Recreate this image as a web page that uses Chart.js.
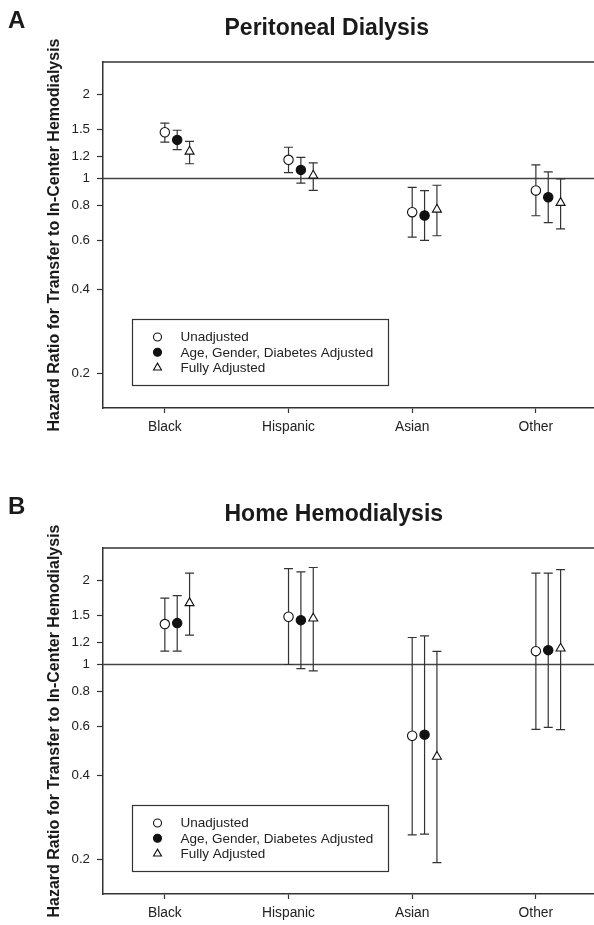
<!DOCTYPE html>
<html>
<head>
<meta charset="utf-8">
<script src="https://cdn.jsdelivr.net/npm/chart.js@4.4.1/dist/chart.umd.min.js"></script>
<style>
  html, body { margin: 0; padding: 0; background: #fff; overflow: hidden; }
  body { width: 594px; height: 925px; position: relative; }
  .panel { position: absolute; left: 0; width: 594px; height: 460px; }
  #panelA { top: 0; }
  #panelB { top: 486px; }
</style>
</head>
<body>
<div class="panel" id="panelA"><canvas id="chartA" width="594" height="460"></canvas></div>
<div class="panel" id="panelB"><canvas id="chartB" width="594" height="460"></canvas></div>
<script>
// ---------- data ----------
const categories = ['Black', 'Hispanic', 'Asian', 'Other'];
const seriesNames = ['Unadjusted', 'Age, Gender, Diabetes Adjusted', 'Fully Adjusted'];
const yTickValues = [0.2, 0.4, 0.6, 0.8, 1, 1.2, 1.5, 2];
const yAxisTitle = 'Hazard Ratio for Transfer to In-Center Hemodialysis';

// Panel A: Peritoneal Dialysis
const pdUnadjusted     = [1.466, 1.167, 0.757, 0.906];
const pdUnadjustedLow  = [1.35, 1.05, 0.616, 0.735];
const pdUnadjustedHigh = [1.58, 1.295, 0.929, 1.12];
const pdAgeAdjusted     = [1.376, 1.074, 0.737, 0.857];
const pdAgeAdjustedLow  = [1.27, 0.962, 0.600, 0.694];
const pdAgeAdjustedHigh = [1.49, 1.19, 0.904, 1.057];
const pdFullyAdjusted     = [1.25, 1.025, 0.774, 0.818];
const pdFullyAdjustedLow  = [1.13, 0.906, 0.623, 0.66];
const pdFullyAdjustedHigh = [1.36, 1.138, 0.946, 0.997];

// Panel B: Home Hemodialysis
const hhdUnadjusted     = [1.397, 1.484, 0.555, 1.117];
const hhdUnadjustedLow  = [1.117, 1.0, 0.2445, 0.585];
const hhdUnadjustedHigh = [1.73, 2.21, 1.25, 2.13];
const hhdAgeAdjusted     = [1.408, 1.443, 0.56, 1.126];
const hhdAgeAdjustedLow  = [1.117, 0.967, 0.246, 0.595];
const hhdAgeAdjustedHigh = [1.766, 2.15, 1.268, 2.13];
const hhdFullyAdjusted     = [1.662, 1.464, 0.467, 1.142];
const hhdFullyAdjustedLow  = [1.274, 0.949, 0.1945, 0.584];
const hhdFullyAdjustedHigh = [2.13, 2.23, 1.114, 2.19];

// ---------- styling ----------
const FONT = '"Liberation Sans", Arial, Helvetica, sans-serif';
const INK = '#222';
const LINE = '#333';
const seriesOffsets = [0, 0.1, 0.2];
const markerStyles = [
  { pointStyle: 'circle', fill: '#fff', radius: 4.7 },
  { pointStyle: 'circle', fill: '#111', radius: 4.7 },
  { pointStyle: 'triangle', fill: '#fff', radius: 5.2 }
];

function buildDatasets(series) {
  return series.map((s, i) => ({
    label: seriesNames[i],
    data: categories.map((c, j) => ({ x: j + 1 + seriesOffsets[i], y: s.v[j], lo: s.lo[j], hi: s.hi[j] })),
    pointStyle: markerStyles[i].pointStyle,
    pointRadius: markerStyles[i].radius,
    pointBackgroundColor: markerStyles[i].fill,
    pointBorderColor: '#111',
    pointBorderWidth: 1.1,
    showLine: false
  }));
}

const errorBarPlugin = {
  id: 'errorBars',
  beforeDatasetsDraw(chart) {
    const { ctx, chartArea, scales: { x, y } } = chart;
    ctx.save();
    // reference line at HR = 1
    const y1 = y.getPixelForValue(1);
    ctx.strokeStyle = '#444';
    ctx.lineWidth = 1.5;
    ctx.beginPath();
    ctx.moveTo(chartArea.left, y1);
    ctx.lineTo(chartArea.right, y1);
    ctx.stroke();
    // error bars
    ctx.strokeStyle = LINE;
    ctx.lineWidth = 1.2;
    chart.data.datasets.forEach(ds => {
      ds.data.forEach(d => {
        const px = x.getPixelForValue(d.x);
        const pl = y.getPixelForValue(d.lo);
        const ph = y.getPixelForValue(d.hi);
        ctx.beginPath();
        ctx.moveTo(px, pl); ctx.lineTo(px, ph);
        ctx.moveTo(px - 4.5, pl); ctx.lineTo(px + 4.5, pl);
        ctx.moveTo(px - 4.5, ph); ctx.lineTo(px + 4.5, ph);
        ctx.stroke();
      });
    });
    ctx.restore();
  }
};

const frameTextPlugin = {
  id: 'frameText',
  afterDraw(chart, args, opts) {
    const { ctx, chartArea } = chart;
    ctx.save();
    // top frame line
    ctx.strokeStyle = LINE;
    ctx.lineWidth = 1.5;
    ctx.beginPath();
    ctx.moveTo(chartArea.left, chartArea.top);
    ctx.lineTo(chartArea.right, chartArea.top);
    ctx.stroke();
    // panel letter & title
    ctx.fillStyle = '#1a1a1a';
    ctx.textBaseline = 'alphabetic';
    ctx.textAlign = 'left';
    ctx.font = 'bold 24px ' + FONT;
    ctx.fillText(opts.letter, 8, 28);
    ctx.font = 'bold 23px ' + FONT;
    ctx.fillText(opts.title, 224.5, 35);
    // legend box
    const lx = chartArea.left + 29, ly = chartArea.top + 257, lw = 256, lh = 66;
    ctx.strokeStyle = LINE;
    ctx.lineWidth = 1.2;
    ctx.strokeRect(lx + 0.5, ly + 0.5, lw, lh);
    ctx.font = '13.5px ' + FONT;
    ctx.textBaseline = 'middle';
    ctx.fillStyle = INK;
    const rows = [18, 33.3, 48.7];
    seriesNames.forEach((name, i) => {
      const mx = lx + 25.5, my = ly + rows[i];
      ctx.beginPath();
      ctx.lineWidth = 1.1;
      ctx.strokeStyle = '#111';
      if (markerStyles[i].pointStyle === 'circle') {
        ctx.arc(mx, my, 4, 0, Math.PI * 2);
      } else {
        const r = 4.6;
        ctx.moveTo(mx, my - r);
        ctx.lineTo(mx + r * 0.866, my + r * 0.5);
        ctx.lineTo(mx - r * 0.866, my + r * 0.5);
        ctx.closePath();
      }
      ctx.fillStyle = markerStyles[i].fill;
      ctx.fill();
      ctx.stroke();
      ctx.fillStyle = INK;
      ctx.fillText(name, lx + 48.5, my + 0.5);
    });
    ctx.restore();
  }
};

function makeChart(canvasId, series, letter, title) {
  return new Chart(document.getElementById(canvasId), {
    type: 'scatter',
    data: { datasets: buildDatasets(series) },
    plugins: [errorBarPlugin, frameTextPlugin],
    options: {
      responsive: false,
      animation: false,
      devicePixelRatio: 1,
      layout: { autoPadding: false, padding: { top: 62, right: 0, left: 0, bottom: 0 } },
      plugins: {
        legend: { display: false },
        tooltip: { enabled: false },
        title: { display: false },
        frameText: { letter, title }
      },
      scales: {
        x: {
          type: 'linear',
          min: 0.5,
          max: 4.47,
          afterBuildTicks: s => { s.ticks = categories.map((c, i) => ({ value: i + 1 })); },
          afterFit: s => { s.height = 52; },
          ticks: {
            autoSkip: false,
            maxRotation: 0,
            padding: 6,
            color: INK,
            font: { family: FONT, size: 13.8 },
            callback: v => categories[Math.round(v) - 1]
          },
          grid: { display: true, drawOnChartArea: false, drawTicks: true, tickLength: 5, tickColor: LINE, tickWidth: 1.2 },
          border: { display: true, color: LINE, width: 1.5 }
        },
        y: {
          type: 'logarithmic',
          min: 0.15,
          max: 2.62,
          afterBuildTicks: s => { s.ticks = yTickValues.map(v => ({ value: v })); },
          afterFit: s => { s.width = 103; },
          ticks: {
            autoSkip: false,
            padding: 7,
            color: INK,
            font: { family: FONT, size: 13.3 },
            callback: v => String(v)
          },
          grid: { display: true, drawOnChartArea: false, drawTicks: true, tickLength: 6, tickColor: LINE, tickWidth: 1.2 },
          border: { display: true, color: LINE, width: 1.5 },
          title: {
            display: true,
            text: yAxisTitle,
            color: '#1a1a1a',
            font: { family: FONT, size: 16, weight: 'bold' },
            padding: { top: 45, bottom: 0 }
          }
        }
      }
    }
  });
}

makeChart('chartA', [
  { v: pdUnadjusted, lo: pdUnadjustedLow, hi: pdUnadjustedHigh },
  { v: pdAgeAdjusted, lo: pdAgeAdjustedLow, hi: pdAgeAdjustedHigh },
  { v: pdFullyAdjusted, lo: pdFullyAdjustedLow, hi: pdFullyAdjustedHigh }
], 'A', 'Peritoneal Dialysis');

makeChart('chartB', [
  { v: hhdUnadjusted, lo: hhdUnadjustedLow, hi: hhdUnadjustedHigh },
  { v: hhdAgeAdjusted, lo: hhdAgeAdjustedLow, hi: hhdAgeAdjustedHigh },
  { v: hhdFullyAdjusted, lo: hhdFullyAdjustedLow, hi: hhdFullyAdjustedHigh }
], 'B', 'Home Hemodialysis');
</script>
</body>
</html>
